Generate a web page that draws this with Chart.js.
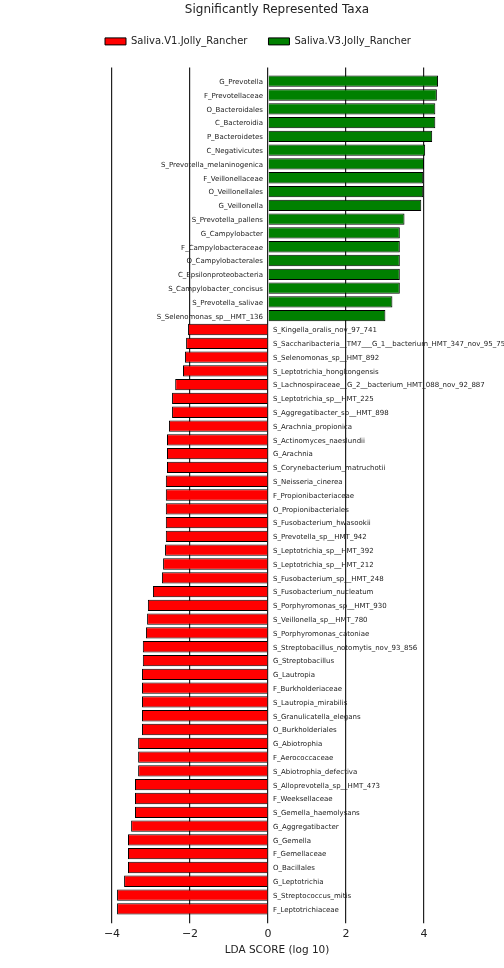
<!DOCTYPE html>
<html>
<head>
<meta charset="utf-8">
<script src="https://cdn.jsdelivr.net/npm/chart.js@4"></script>
<style>
  body { margin: 0; background: #fff; }
</style>
</head>
<body>
<canvas id="ldaChart" width="504" height="968"></canvas>
<script>
const taxa = [
  "G_Prevotella", "F_Prevotellaceae", "O_Bacteroidales", "C_Bacteroidia", "P_Bacteroidetes",
  "C_Negativicutes", "S_Prevotella_melaninogenica", "F_Veillonellaceae", "O_Veillonellales", "G_Veillonella",
  "S_Prevotella_pallens", "G_Campylobacter", "F_Campylobacteraceae", "O_Campylobacterales", "C_Epsilonproteobacteria",
  "S_Campylobacter_concisus", "S_Prevotella_salivae", "S_Selenomonas_sp__HMT_136",
  "S_Kingella_oralis_nov_97_741", "S_Saccharibacteria__TM7___G_1__bacterium_HMT_347_nov_95_75",
  "S_Selenomonas_sp__HMT_892", "S_Leptotrichia_hongkongensis", "S_Lachnospiraceae__G_2__bacterium_HMT_088_nov_92_887",
  "S_Leptotrichia_sp__HMT_225", "S_Aggregatibacter_sp__HMT_898", "S_Arachnia_propionica", "S_Actinomyces_naeslundii",
  "G_Arachnia", "S_Corynebacterium_matruchotii", "S_Neisseria_cinerea", "F_Propionibacteriaceae", "O_Propionibacteriales",
  "S_Fusobacterium_hwasookii", "S_Prevotella_sp__HMT_942", "S_Leptotrichia_sp__HMT_392", "S_Leptotrichia_sp__HMT_212",
  "S_Fusobacterium_sp__HMT_248", "S_Fusobacterium_nucleatum", "S_Porphyromonas_sp__HMT_930", "S_Veillonella_sp__HMT_780",
  "S_Porphyromonas_catoniae", "S_Streptobacillus_notomytis_nov_93_856", "G_Streptobacillus", "G_Lautropia",
  "F_Burkholderiaceae", "S_Lautropia_mirabilis", "S_Granulicatella_elegans", "O_Burkholderiales", "G_Abiotrophia",
  "F_Aerococcaceae", "S_Abiotrophia_defectiva", "S_Alloprevotella_sp__HMT_473", "F_Weeksellaceae", "S_Gemella_haemolysans",
  "G_Aggregatibacter", "G_Gemella", "F_Gemellaceae", "O_Bacillales", "G_Leptotrichia", "S_Streptococcus_mitis",
  "F_Leptotrichiaceae"
];

const scores = [
  4.36, 4.33, 4.29, 4.29, 4.21,
  4.03, 4.00, 3.98, 3.98, 3.93,
  3.50, 3.38, 3.38, 3.38, 3.38,
  3.38, 3.19, 3.01,
  -2.05, -2.10,
  -2.13, -2.18, -2.38,
  -2.46, -2.46, -2.54, -2.59,
  -2.59, -2.59, -2.62, -2.62, -2.62,
  -2.62, -2.62, -2.64, -2.69,
  -2.72, -2.95, -3.08, -3.10,
  -3.13, -3.21, -3.21, -3.23,
  -3.23, -3.23, -3.23, -3.23, -3.33,
  -3.33, -3.33, -3.41, -3.41, -3.41,
  -3.51, -3.59, -3.59, -3.59, -3.69, -3.87,
  -3.87
];

const groups = ["Saliva.V1.Jolly_Rancher", "Saliva.V3.Jolly_Rancher"];
const xTicks = [-4, -2, 0, 2, 4];

const v1Points = [], v3Points = [];
scores.forEach((s, i) => {
  if (s < 0) v1Points.push({ x: s, y: i });
  else v3Points.push({ x: s, y: i });
});

// names sit next to the zero line, on the opposite side of the bar
const taxaLabels = {
  id: "taxaLabels",
  afterDatasetsDraw(chart) {
    const { ctx, scales } = chart;
    const zero = scales.x.getPixelForValue(0);
    ctx.save();
    ctx.font = '7px "DejaVu Sans"';
    ctx.fillStyle = "#222";
    ctx.textBaseline = "middle";
    taxa.forEach((name, i) => {
      const py = scales.y.getPixelForValue(i) + 1;
      if (scores[i] > 0) {
        ctx.textAlign = "right";
        ctx.fillText(name, zero - 5, py);
      } else {
        ctx.textAlign = "left";
        ctx.fillText(name, zero + 5, py);
      }
    });
    ctx.restore();
  }
};

// a bit more room between legend and the plot
const legendGap = {
  id: "legendGap",
  beforeInit(chart) {
    const fit = chart.legend.fit;
    chart.legend.fit = function () {
      fit.call(this);
      this.height += 11;
    };
  }
};

new Chart(document.getElementById("ldaChart"), {
  type: "bar",
  data: {
    datasets: [
      {
        label: groups[0],
        data: v1Points,
        backgroundColor: "#ff0000",
        borderColor: "#000",
        borderWidth: 1,
        grouped: false,
        categoryPercentage: 1,
        barPercentage: 0.82
      },
      {
        label: groups[1],
        data: v3Points,
        backgroundColor: "#008000",
        borderColor: "#000",
        borderWidth: 1,
        grouped: false,
        categoryPercentage: 1,
        barPercentage: 0.82
      }
    ]
  },
  options: {
    indexAxis: "y",
    responsive: false,
    animation: false,
    layout: { padding: { left: 84, right: 34, top: 0, bottom: 11 } },
    plugins: {
      title: {
        display: true,
        text: "Significantly Represented Taxa",
        color: "#222",
        font: { family: "DejaVu Sans", size: 12, weight: "normal" },
        padding: { top: 3, bottom: -2 }
      },
      legend: {
        display: true,
        align: "start",
        labels: {
          boxWidth: 21,
          boxHeight: 7,
          padding: 21,
          color: "#222",
          font: { family: "DejaVu Sans", size: 10 }
        }
      },
      tooltip: { enabled: false }
    },
    scales: {
      x: {
        type: "linear",
        min: (84 - 268) / 39,
        max: (470 - 268) / 39,
        z: 1,
        afterBuildTicks(scale) {
          scale.ticks = xTicks.map(v => ({ value: v }));
        },
        ticks: {
          color: "#222",
          font: { family: "DejaVu Sans", size: 11 },
          padding: 4,
          callback: v => String(v).replace("-", "\u2212")
        },
        grid: { color: "#222", lineWidth: 1.2, tickLength: 4 },
        border: { display: false },
        title: {
          display: true,
          text: "LDA SCORE (log 10)",
          color: "#222",
          font: { family: "DejaVu Sans", size: 10.5 },
          padding: { top: 0, bottom: 0 }
        }
      },
      y: {
        type: "linear",
        reverse: true,
        offset: false,
        min: -1,
        max: 60.75,
        display: false
      }
    }
  },
  plugins: [taxaLabels, legendGap]
});
</script>
</body>
</html>
